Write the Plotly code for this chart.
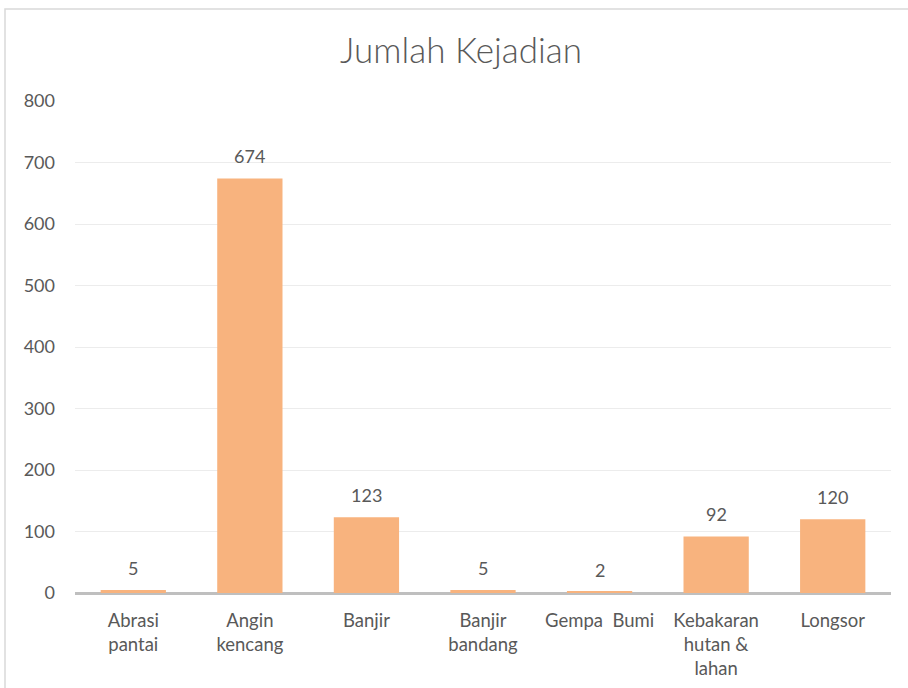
import plotly.graph_objects as go

categories = ["Abrasi<br>pantai", "Angin<br>kencang", "Banjir", "Banjir<br>bandang",
              "Gempa  Bumi", "Kebakaran<br>hutan &<br>lahan", "Longsor"]
values = [5, 674, 123, 5, 2, 92, 120]
y_ticks = [0, 100, 200, 300, 400, 500, 600, 700, 800]

FONT = "Lato, Open Sans, sans-serif"
TXT = "#595959"

fig = go.Figure()
fig.add_trace(go.Bar(
    x=categories, y=values,
    marker=dict(color="#F8B37E", line=dict(width=0)),
    hoverinfo="x+y",
))

annotations = [
    dict(x=c, y=v, text=str(v), showarrow=False, yanchor="bottom", yshift=9,
         font=dict(family=FONT, size=18, color=TXT))
    for c, v in zip(categories, values)
]

W, H = 908, 688
L, R, T, B = 75, 17, 101, 95
pw, ph = W - L - R, H - T - B

fig.update_layout(
    width=W, height=H,
    autosize=False,
    margin=dict(l=L, r=R, t=T, b=B, autoexpand=False),
    paper_bgcolor="white", plot_bgcolor="white",
    bargap=0.44,
    showlegend=False,
    title=dict(text="Jumlah Kejadian", x=461 / W, xanchor="center",
               y=1 - 51 / H, yanchor="middle",
               font=dict(family=FONT, size=35, color=TXT, weight=300)),
    xaxis=dict(showgrid=False, showline=False, ticks="", zeroline=False, automargin=False,
               tickfont=dict(family=FONT, size=18.5, color=TXT), ticklabelstandoff=14),
    yaxis=dict(range=[0, 800], tickvals=y_ticks, showgrid=True, gridcolor="#ececec", gridwidth=1,
               zeroline=True, zerolinecolor="#bfbfbf", zerolinewidth=3, showline=False, ticks="",
               automargin=False,
               tickfont=dict(family=FONT, size=18, color=TXT), ticklabelstandoff=19),
    annotations=annotations,
    shapes=[
        dict(type="rect", xref="paper", yref="paper",
             x0=(5 - L) / pw, x1=(W + 20 - L) / pw,
             y0=-(B + 20) / ph, y1=(H - B - 9) / ph,
             line=dict(color="#d9d9d9", width=1.5), fillcolor="rgba(0,0,0,0)", layer="below"),
    ],
)

fig.write_html("out.html", config={"displayModeBar": False},
               post_script="document.body.style.margin='0';document.body.style.overflow='hidden';")
